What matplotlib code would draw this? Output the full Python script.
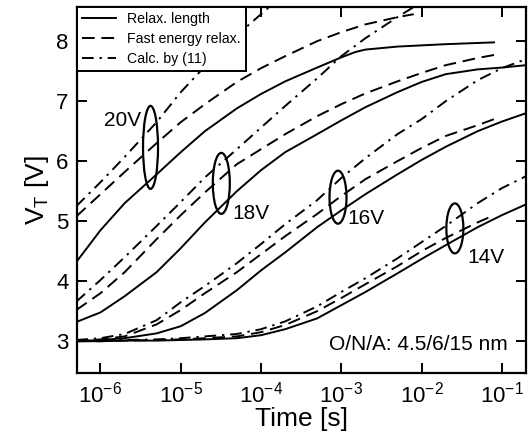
import matplotlib
matplotlib.use("Agg")
import matplotlib.pyplot as plt
import matplotlib.transforms as mtransforms
from matplotlib.patches import Ellipse

plt.rcParams['font.family'] = ['Liberation Sans', 'DejaVu Sans']
plt.rcParams['mathtext.fontset'] = 'custom'
plt.rcParams['mathtext.rm'] = 'Liberation Sans'
plt.rcParams['mathtext.it'] = 'Liberation Sans:italic'
plt.rcParams['mathtext.default'] = 'regular'

# time axis [s]
t_full = [5e-7, 1e-6, 2e-6, 5e-6, 1e-5, 2e-5, 5e-5, 1e-4, 2e-4, 5e-4,
          1e-3, 2e-3, 5e-3, 1e-2, 2e-2, 5e-2, 1e-1, 2e-1]
t_to_80m = t_full[:16] + [8e-2]
t_to_8m = t_full[:13] + [8e-3]

# 20 V
t_20_solid = [5e-7, 1e-6, 2e-6, 5e-6, 1e-5, 2e-5, 5e-5, 1e-4, 2e-4, 5e-4,
              1e-3, 1.5e-3, 2e-3, 5e-3, 1e-2, 2e-2, 5e-2, 8e-2]
v_20_solid = [4.32, 4.85, 5.3, 5.78, 6.15, 6.5, 6.88, 7.12, 7.33, 7.56,
              7.73, 7.82, 7.86, 7.91, 7.93, 7.95, 7.97, 7.98]
v_20_dash = [5.08, 5.45, 5.82, 6.3, 6.65, 6.95, 7.32, 7.55, 7.75, 8.0,
             8.15, 8.28, 8.4, 8.45]
t_20_dd = t_full[:9]
v_20_dd = [5.25, 5.65, 6.07, 6.65, 7.15, 7.58, 8.1, 8.45, 8.8]

# 18 V
v_18_solid = [3.32, 3.48, 3.75, 4.15, 4.55, 4.98, 5.5, 5.85, 6.15, 6.45,
              6.68, 6.9, 7.15, 7.32, 7.45, 7.53, 7.56, 7.6]
v_18_dash = [3.52, 3.8, 4.15, 4.7, 5.1, 5.48, 5.95, 6.2, 6.45, 6.75,
             6.95, 7.13, 7.33, 7.47, 7.6, 7.72, 7.77]
v_18_dd = [3.66, 4.02, 4.4, 4.92, 5.32, 5.73, 6.2, 6.56, 6.92, 7.38,
           7.75, 8.05, 8.4, 8.57]

# 16 V
v_16_solid = [3.0, 3.02, 3.05, 3.13, 3.25, 3.47, 3.85, 4.18, 4.48, 4.9,
              5.18, 5.45, 5.78, 6.02, 6.24, 6.5, 6.66, 6.8]
v_16_dash = [3.0, 3.03, 3.08, 3.28, 3.52, 3.8, 4.15, 4.45, 4.75, 5.12,
             5.42, 5.7, 6.0, 6.22, 6.42, 6.6, 6.7]
v_16_dd = [3.02, 3.05, 3.12, 3.35, 3.65, 3.92, 4.3, 4.62, 4.95, 5.35,
           5.72, 6.05, 6.45, 6.7, 7.0, 7.35, 7.55, 7.7]

# 14 V
v_14_solid = [3.0, 3.0, 3.01, 3.01, 3.02, 3.03, 3.05, 3.1, 3.2, 3.38,
              3.6, 3.82, 4.13, 4.37, 4.6, 4.9, 5.1, 5.28]
v_14_dash = [3.0, 3.0, 3.01, 3.02, 3.03, 3.05, 3.08, 3.15, 3.27, 3.5,
             3.72, 3.95, 4.25, 4.5, 4.72, 4.98, 5.1]
v_14_dd = [3.0, 3.01, 3.02, 3.03, 3.05, 3.08, 3.12, 3.2, 3.33, 3.58,
           3.82, 4.05, 4.38, 4.65, 4.92, 5.3, 5.55, 5.75]

# voltage labels: (text, ring centre t, ring centre V, ring w, ring h [in], label t, label V, ha)
rings = [("20V", 4.2e-6, 6.23, 0.15, 0.83, 3.2e-6, 6.67, 'right'),
         ("18V", 3.2e-5, 5.63, 0.17, 0.61, 4.4e-5, 5.13, 'left'),
         ("16V", 9.1e-4, 5.40, 0.17, 0.53, 1.2e-3, 5.05, 'left'),
         ("14V", 2.6e-2, 4.88, 0.17, 0.50, 3.7e-2, 4.40, 'left')]

fig = plt.figure(figsize=(5.29, 4.36), dpi=100)
ax = fig.add_axes([0.1456, 0.1445, 0.8487, 0.8395])

lw = 1.4
dash = (0, (6.5, 3.5))
dashdot = (0, (6, 3, 1.2, 3))

ax.plot(t_20_solid, v_20_solid, 'k-', lw=lw, label='Relax. length')
ax.plot(t_to_8m, v_20_dash, 'k', ls=dash, lw=lw, label='Fast energy relax.')
ax.plot(t_20_dd, v_20_dd, 'k', ls=dashdot, lw=lw, label='Calc. by (11)')

ax.plot(t_full, v_18_solid, 'k-', lw=lw)
ax.plot(t_to_80m, v_18_dash, 'k', ls=dash, lw=lw)
ax.plot(t_to_8m, v_18_dd, 'k', ls=dashdot, lw=lw)

ax.plot(t_full, v_16_solid, 'k-', lw=lw)
ax.plot(t_to_80m, v_16_dash, 'k', ls=dash, lw=lw)
ax.plot(t_full, v_16_dd, 'k', ls=dashdot, lw=lw)

ax.plot(t_full, v_14_solid, 'k-', lw=lw)
ax.plot(t_to_80m, v_14_dash, 'k', ls=dash, lw=lw)
ax.plot(t_full, v_14_dd, 'k', ls=dashdot, lw=lw)

ax.set_xscale('log')
ax.set_xlim(5.1e-7, 0.2)
ax.set_ylim(2.47, 8.57)
ax.set_yticks([3, 4, 5, 6, 7, 8])
ax.minorticks_off()
ax.tick_params(direction='in', length=7, width=1.4, top=True, right=True,
               labelsize=16, pad=6)
for s in ax.spines.values():
    s.set_linewidth(1.6)

for txt, tc, vc, w, h, tl, vl, ha in rings:
    tr = fig.dpi_scale_trans + mtransforms.ScaledTranslation(tc, vc, ax.transData)
    ax.add_patch(Ellipse((0, 0), w, h, transform=tr, fill=False,
                         lw=1.6, ec='k', zorder=5))
    ax.text(tl, vl, txt, ha=ha, va='center', fontsize=15)

ax.text(0.96, 0.077, "O/N/A: 4.5/6/15 nm", transform=ax.transAxes,
        ha='right', va='center', fontsize=15)

ax.set_xlabel("Time [s]", fontsize=19, labelpad=0)
ax.set_ylabel(r"V$_\mathrm{T}$ [V]", fontsize=19, labelpad=4)

leg = ax.legend(loc='upper left', borderaxespad=0, fancybox=False,
                edgecolor='k', fontsize=10.2, handlelength=2.4,
                handletextpad=0.8, labelspacing=0.42, borderpad=0.35,
                framealpha=1)
leg.get_frame().set_linewidth(1.4)

fig.savefig("out.png", dpi=100)
